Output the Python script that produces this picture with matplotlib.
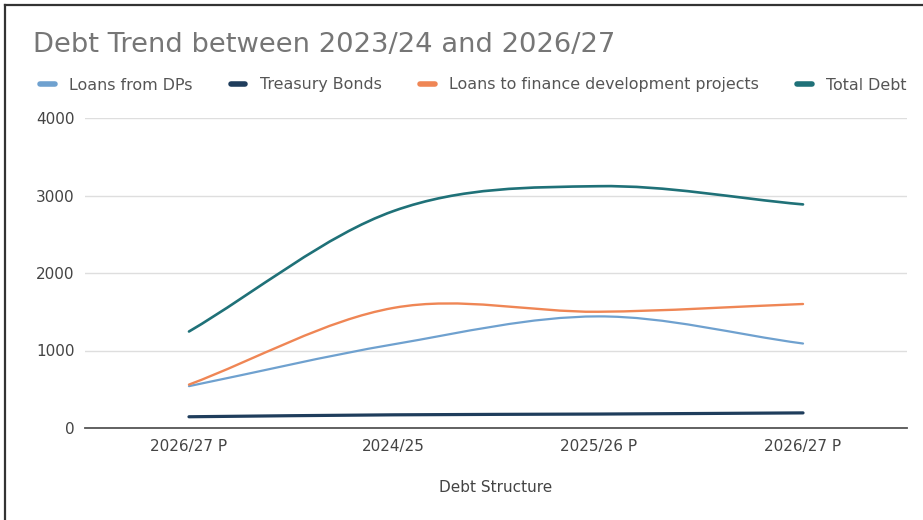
import matplotlib
matplotlib.use("Agg")
import matplotlib.pyplot as plt
from matplotlib.path import Path
from matplotlib.patches import PathPatch
from matplotlib.lines import Line2D

plt.rcParams['font.family'] = ['DejaVu Sans']

categories = ["2026/27 P", "2024/25", "2025/26 P", "2026/27 P"]
loans_from_dps = [540, 1080, 1440, 1090]
treasury_bonds = [145, 170, 180, 195]
loans_dev_projects = [560, 1550, 1500, 1600]
total_debt = [1245, 2800, 3120, 2885]

series = [
    ("Loans from DPs", loans_from_dps, "#6fa1cf", 1.6),
    ("Treasury Bonds", treasury_bonds, "#1f3d5c", 2.3),
    ("Loans to finance development projects", loans_dev_projects, "#ef8655", 1.7),
    ("Total Debt", total_debt, "#1f7178", 1.9),
]


def smooth_path(xs, ys):
    """Cubic Bezier path through the points with Catmull-Rom tangents."""
    n = len(xs)
    tang = []
    for i in range(n):
        if i == 0:
            tang.append(ys[1] - ys[0])
        elif i == n - 1:
            tang.append(ys[-1] - ys[-2])
        else:
            tang.append((ys[i + 1] - ys[i - 1]) / 2)
    verts = [(xs[0], ys[0])]
    codes = [Path.MOVETO]
    for i in range(n - 1):
        dx = xs[i + 1] - xs[i]
        verts += [(xs[i] + dx / 3, ys[i] + tang[i] / 3),
                  (xs[i + 1] - dx / 3, ys[i + 1] - tang[i + 1] / 3),
                  (xs[i + 1], ys[i + 1])]
        codes += [Path.CURVE4] * 3
    return Path(verts, codes)


fig = plt.figure(figsize=(9.23, 5.2), dpi=100)
ax = fig.add_axes([85 / 923, 1 - 428 / 520, (907 - 85) / 923, (428 - 118) / 520])

xs = list(range(len(categories)))
handles = []
for name, vals, color, lw in series:
    patch = PathPatch(smooth_path(xs, vals), facecolor="none", edgecolor=color,
                      lw=lw, capstyle="round", zorder=3)
    ax.add_patch(patch)
    handles.append(Line2D([], [], color=color, lw=4, solid_capstyle="round", label=name))

ax.set_xlim(-0.508, 3.508)
ax.set_ylim(0, 4000)
ax.set_yticks([0, 1000, 2000, 3000, 4000])
ax.set_xticks(xs)
ax.set_xticklabels(categories)
ax.tick_params(axis="both", length=0, labelsize=11, colors="#444444")
ax.tick_params(axis="y", pad=7.5)
ax.tick_params(axis="x", pad=8)
ax.grid(axis="y", color="#dedede", lw=1)
ax.set_axisbelow(True)
for side in ("top", "right", "left"):
    ax.spines[side].set_visible(False)
ax.spines["bottom"].set_color("#555555")
ax.spines["bottom"].set_linewidth(1.3)
ax.spines["bottom"].set_zorder(4)

ax.set_xlabel("Debt Structure", fontsize=11, color="#444444", labelpad=19)

fig.text(33 / 923, 1 - 45 / 520, "Debt Trend between 2023/24 and 2026/27",
         fontsize=19.7, color="#767676", va="center", ha="left")

fig.legend(handles=handles, loc="center left", bbox_to_anchor=(34 / 923, 1 - 85 / 520),
           ncol=4, frameon=False, fontsize=11.4, handlelength=0.9, handletextpad=0.9,
           columnspacing=2.45, labelcolor="#555555", borderaxespad=0)

# page frame
fig.add_artist(Line2D([5 / 923, 1], [1 - 5 / 520, 1 - 5 / 520], color="#333333", lw=1.6))
fig.add_artist(Line2D([5 / 923, 5 / 923], [0, 1 - 5 / 520], color="#333333", lw=1.6))

fig.savefig("out.png", dpi=100, facecolor="white")
